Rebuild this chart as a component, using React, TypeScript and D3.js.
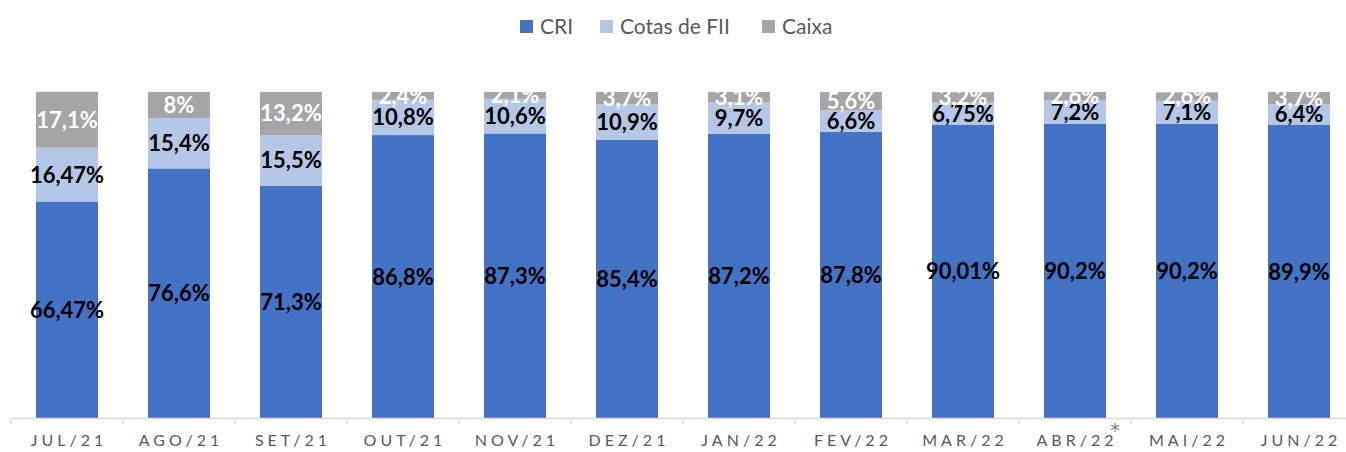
import React from 'react';
import * as d3 from 'd3';

const months = ['JUL/21', 'AGO/21', 'SET/21', 'OUT/21', 'NOV/21', 'DEZ/21', 'JAN/22', 'FEV/22', 'MAR/22', 'ABR/22', 'MAI/22', 'JUN/22'];
const cri = [66.47, 76.6, 71.3, 86.8, 87.3, 85.4, 87.2, 87.8, 90.01, 90.2, 90.2, 89.9];
const cotas = [16.47, 15.4, 15.5, 10.8, 10.6, 10.9, 9.7, 6.6, 6.75, 7.2, 7.1, 6.4];
const caixa = [17.1, 8, 13.2, 2.4, 2.1, 3.7, 3.1, 5.6, 3.2, 2.6, 2.6, 3.7];
const criLabels = ['66,47%', '76,6%', '71,3%', '86,8%', '87,3%', '85,4%', '87,2%', '87,8%', '90,01%', '90,2%', '90,2%', '89,9%'];
const cotasLabels = ['16,47%', '15,4%', '15,5%', '10,8%', '10,6%', '10,9%', '9,7%', '6,6%', '6,75%', '7,2%', '7,1%', '6,4%'];
const caixaLabels = ['17,1%', '8%', '13,2%', '2,4%', '2,1%', '3,7%', '3,1%', '5,6%', '3,2%', '2,6%', '2,6%', '3,7%'];
const seriesNames = ['CRI', 'Cotas de FII', 'Caixa'];

const W = 1346;
const H = 452;
const colors = ['#4472C4', '#B4C7E7', '#A5A5A5'];
const labelColors = ['#000000', '#000000', '#FFFFFF'];
const FONT = 'Lato, "Open Sans", sans-serif';

export default function App() {
  const rows = months.map((m, i) => ({ m, cri: cri[i], cotas: cotas[i], caixa: caixa[i] }));
  const keys = ['cri', 'cotas', 'caixa'];
  const labels = [criLabels, cotasLabels, caixaLabels];
  const stacked = d3.stack<any>().keys(keys)(rows);

  const x = d3.scaleBand().domain(months).range([11, 1355]).paddingInner(0.446).paddingOuter(0.223);
  const band = d3.scaleBand().domain(months).range([11, 1355]);
  const y = d3.scaleLinear().domain([0, 100]).range([418.5, 92]);

  const legendX = [520, 600, 762];
  const spacing = 4;

  return (
    <svg width={W} height={H} style={{ position: 'absolute', left: 0, top: 0, background: '#fff' }} fontFamily={FONT}>
      {/* legend */}
      {seriesNames.map((n, i) => (
        <g key={n} transform={`translate(${legendX[i]},20)`}>
          <rect width={13} height={13} fill={colors[i]} />
          <text x={20} y={13.5} fontSize={21} fill="#595959">{n}</text>
        </g>
      ))}

      {/* bars */}
      {stacked.map((s, si) => (
        <g key={s.key} fill={colors[si]}>
          {s.map((d, i) => (
            <rect key={i} x={x(months[i])} width={x.bandwidth()} y={y(d[1])} height={y(d[0]) - y(d[1])} />
          ))}
        </g>
      ))}

      {/* data labels */}
      {stacked.map((s, si) => (
        <g key={'l' + s.key} fill={labelColors[si]} fontWeight={700} fontSize={22} textAnchor="middle">
          {s.map((d, i) => (
            <text key={i} x={x(months[i])! + x.bandwidth() / 2} y={y((d[0] + d[1]) / 2)} dy="0.36em">
              {labels[si][i]}
            </text>
          ))}
        </g>
      ))}

      {/* axis */}
      <line x1={11} x2={1355} y1={418.5} y2={418.5} stroke="#D9D9D9" strokeWidth={1.3} />
      {months.map((m) => (
        <line key={'t' + m} x1={band(m)} x2={band(m)} y1={418.5} y2={424} stroke="#D9D9D9" strokeWidth={1.3} />
      ))}
      {months.map((m) => (
        <text key={'x' + m} x={band(m)! + band.bandwidth() / 2 + spacing / 2} y={445.5} textAnchor="middle"
          fontSize={16} fill="#595959" letterSpacing={spacing}>{m}</text>
      ))}
      <text x={band('ABR/22')! + band.bandwidth() - 16} y={437} fontSize={20} fill="#7F7F7F" textAnchor="middle"
        fontFamily='"DejaVu Sans", sans-serif'>*</text>
    </svg>
  );
}
